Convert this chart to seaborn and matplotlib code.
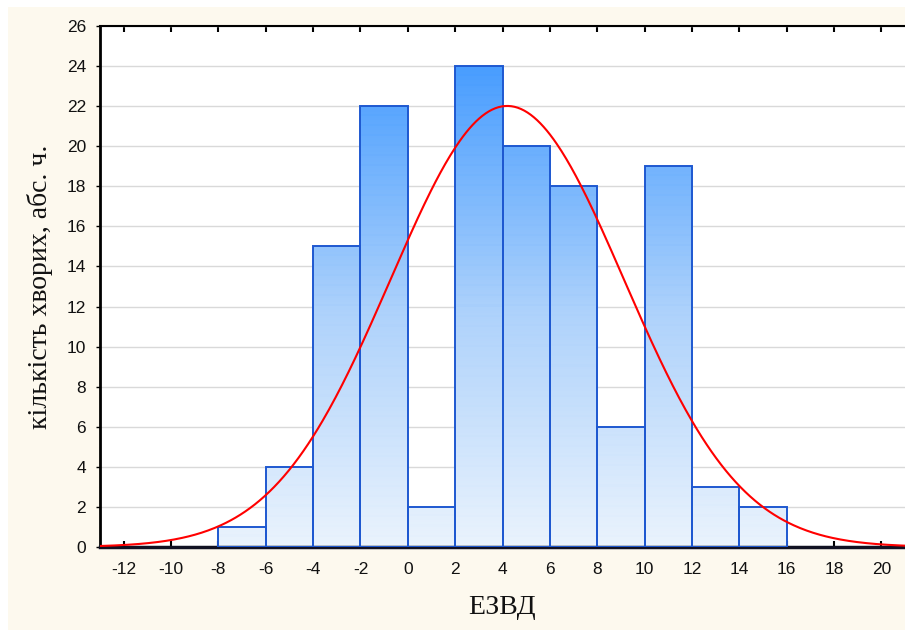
import numpy as np
import pandas as pd
import seaborn as sns
import matplotlib
matplotlib.use("Agg")
import matplotlib.pyplot as plt
from matplotlib.colors import LinearSegmentedColormap
from matplotlib.patches import Rectangle

# Frequency table: bins of width 2 from -8 to 16
bin_edges = [-8, -6, -4, -2, 0, 2, 4, 6, 8, 10, 12, 14, 16]
counts = [1, 4, 15, 22, 2, 24, 20, 18, 6, 19, 3, 2]

# Fitted normal curve parameters
fit_mean = 4.2
fit_sd = 4.93

x_ticks = list(range(-12, 21, 2))
y_ticks = list(range(0, 27, 2))

x_label = "ЕЗВД"
y_label = "кількість хворих, абс. ч."

mids = [(a + b) / 2 for a, b in zip(bin_edges[:-1], bin_edges[1:])]
df = pd.DataFrame({"value": mids, "n": counts})

sns.set_theme(style="white")
plt.rcParams["font.family"] = ["Liberation Sans", "DejaVu Sans"]
plt.rcParams["axes.unicode_minus"] = False

fig = plt.figure(figsize=(9.05, 6.3), dpi=100)
fig.patch.set_facecolor("white")
fig.patches.append(Rectangle((8 / 905, 0), 1, (630 - 7) / 630,
                             transform=fig.transFigure, facecolor="#fdf9ee",
                             edgecolor="none", zorder=-10))

ax = fig.add_axes([100 / 905, 83 / 630, 805 / 905, 521 / 630])
ax.set_facecolor("white")

xmin, xmax, ymin, ymax = -13.0, 21.0, 0.0, 26.0

sns.histplot(data=df, x="value", weights="n", bins=bin_edges, ax=ax,
             stat="count", element="bars", fill=True,
             facecolor="none", edgecolor="#1e58d0", linewidth=1.4, zorder=3)

# vertical blue gradient painted inside each bar
cmap = LinearSegmentedColormap.from_list(
    "bars", [(0.0, "#eaf3fd"), (0.45, "#aed2fb"), (0.92, "#4a9eff"), (1.0, "#4698ff")])
grad = np.linspace(0, 1, 260).reshape(-1, 1)
# faint horizontal banding
band = (np.arange(260) % 5 == 0).reshape(-1, 1) * 0.015
grad = np.clip(grad + band, 0, 1)
for p in list(ax.patches):
    im = ax.imshow(grad, extent=[xmin, xmax, ymin, ymax], origin="lower",
                   aspect="auto", cmap=cmap, vmin=0, vmax=1, zorder=2,
                   interpolation="nearest")
    im.set_clip_path(p)

# normal curve scaled to counts
xs = np.linspace(xmin, xmax, 500)
total = sum(counts)
width = bin_edges[1] - bin_edges[0]
ys = total * width / (fit_sd * np.sqrt(2 * np.pi)) * np.exp(-0.5 * ((xs - fit_mean) / fit_sd) ** 2)
sns.lineplot(x=xs, y=ys, ax=ax, color="#ff0000", linewidth=1.5, zorder=5)

ax.set_xlim(xmin, xmax)
ax.set_ylim(ymin, ymax)
ax.set_xticks(x_ticks)
ax.set_yticks(y_ticks)
ax.yaxis.grid(True, color="#d9d9d9", linewidth=1.0, zorder=0)
ax.set_axisbelow(True)

for side in ["left", "bottom", "top"]:
    ax.spines[side].set_visible(True)
    ax.spines[side].set_color("black")
ax.spines["left"].set_linewidth(2.0)
ax.spines["bottom"].set_linewidth(2.5)
ax.spines["bottom"].set_color("#111122")
ax.spines["top"].set_linewidth(1.5)
ax.spines["right"].set_visible(False)

ax.tick_params(axis="x", direction="in", top=True, bottom=True, length=4,
               width=1.5, color="black", labelsize=12.5, pad=11, labelcolor="#111111")
ax.tick_params(axis="y", direction="out", left=True, length=3, width=1,
               color="black", labelsize=12.5, pad=7, labelcolor="#111111")

ax.set_xlabel(x_label, fontsize=20, family=["Liberation Serif", "DejaVu Serif"],
              color="#111111", labelpad=13)
ax.set_ylabel(y_label, fontsize=20, family=["Liberation Serif", "DejaVu Serif"],
              color="#111111", labelpad=10)

fig.savefig("out.png", dpi=100, facecolor=fig.get_facecolor())
